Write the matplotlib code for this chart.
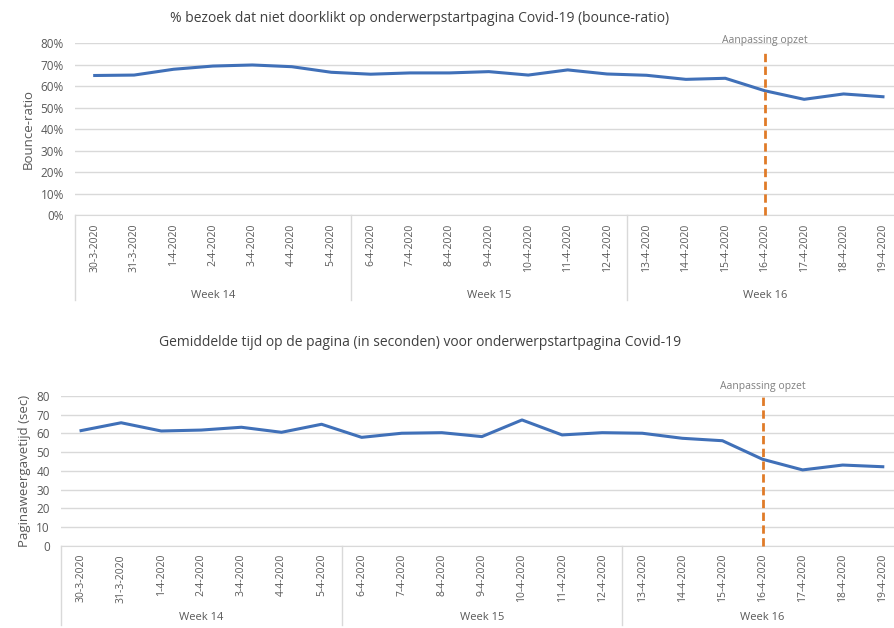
import matplotlib.pyplot as plt
from matplotlib.transforms import blended_transform_factory

plt.rcParams["font.family"] = ["Open Sans", "DejaVu Sans"]

dates = [
    "30-3-2020", "31-3-2020", "1-4-2020", "2-4-2020", "3-4-2020", "4-4-2020", "5-4-2020",
    "6-4-2020", "7-4-2020", "8-4-2020", "9-4-2020", "10-4-2020", "11-4-2020", "12-4-2020",
    "13-4-2020", "14-4-2020", "15-4-2020", "16-4-2020", "17-4-2020", "18-4-2020", "19-4-2020",
]
weeks = ["Week 14", "Week 15", "Week 16"]
days_per_week = 7

bounce_pct = [65.0, 65.2, 67.9, 69.4, 69.9, 69.1, 66.5,
              65.6, 66.2, 66.2, 66.8, 65.2, 67.6, 65.7,
              65.1, 63.2, 63.7, 57.9, 53.9, 56.4, 55.1]
time_sec = [61.5, 65.7, 61.3, 61.8, 63.3, 60.6, 64.9,
            57.9, 60.1, 60.4, 58.3, 67.2, 59.2, 60.4,
            60.1, 57.4, 56.1, 46.2, 40.5, 43.1, 42.2]

change_date = "16-4-2020"
change_label = "Aanpassing opzet"

LINE_COLOR = "#4070b8"
ORANGE = "#e07b28"
GRID = "#d9d9d9"
TEXT = "#595959"


def draw_panel(ax, values, ylim, ystep, yfmt, ylabel, title, title_y,
               box_depth, week_y, line_top, label_y):
    x = list(range(len(dates)))
    ax.set_xlim(-0.5, 20.28)
    ax.set_ylim(*ylim)
    ticks = list(range(ylim[0], ylim[1] + 1, ystep))
    ax.set_yticks(ticks)
    ax.set_yticklabels([yfmt.format(t) for t in ticks], color=TEXT, fontsize=8.5)
    ax.grid(axis="y", color=GRID, linewidth=1)
    ax.set_axisbelow(True)
    for s in ["top", "right", "left"]:
        ax.spines[s].set_visible(False)
    ax.spines["bottom"].set_color(GRID)
    ax.tick_params(length=0)
    ax.tick_params(axis="y", pad=8)
    ax.set_xticks(x)
    ax.set_xticklabels(dates, rotation=90, fontsize=7.5, color=TEXT)
    ax.tick_params(axis="x", pad=6)

    ax.plot(x, values, color=LINE_COLOR, linewidth=2.2, zorder=3)

    # vertical marker for the page redesign
    cx = dates.index(change_date)
    ax.plot([cx, cx], [0, line_top], color=ORANGE, linewidth=2,
            linestyle=(0, (3, 1.6)), zorder=4, clip_on=False)
    ax.text(cx, label_y, change_label, ha="center", va="center",
            fontsize=7.5, color="#808080")

    # multi-level category axis (dates / weeks)
    trans = blended_transform_factory(ax.transData, ax.transAxes)
    for b in [-0.5, 6.5, 13.5]:
        ax.plot([b, b], [0, -box_depth], transform=trans, color=GRID,
                linewidth=1, clip_on=False)
    for i, w in enumerate(weeks):
        ax.text(i * days_per_week + 3, -week_y, w, transform=trans,
                ha="center", va="center", fontsize=8, color=TEXT)

    ax.set_ylabel(ylabel, color=TEXT, fontsize=9.5, labelpad=4)
    ax.text(420, title_y, title, transform=None, ha="center", va="center",
            fontsize=10, color="#404040")


fig = plt.figure(figsize=(8.94, 6.28), dpi=100)

ax1 = fig.add_axes([75 / 894, 1 - 215 / 628, 819 / 894, 171.7 / 628])
draw_panel(ax1, bounce_pct, (0, 80), 10, "{}%",
           "Bounce-ratio",
           "% bezoek dat niet doorklikt op onderwerpstartpagina Covid-19 (bounce-ratio)",
           628 - 18, 0.495, 0.466, 76.5, 81.5)

ax2 = fig.add_axes([61 / 894, 1 - 545.7 / 628, 833 / 894, 149.7 / 628])
draw_panel(ax2, time_sec, (0, 80), 10, "{}",
           "Paginaweergavetijd (sec)",
           "Gemiddelde tijd op de pagina (in seconden) voor onderwerpstartpagina Covid-19",
           628 - 343, 0.53, 0.48, 80, 85.3)

fig.savefig("out.png", dpi=100)
